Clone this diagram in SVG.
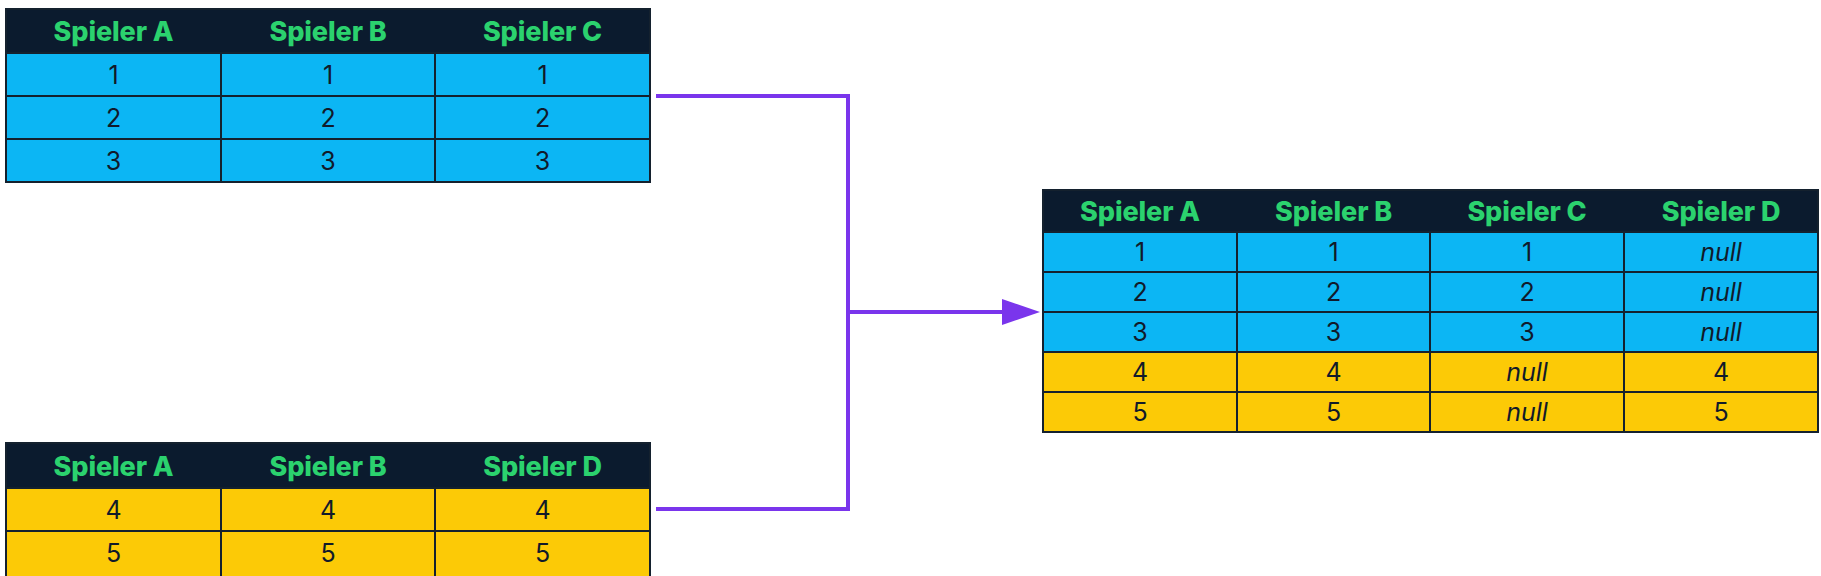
<svg xmlns="http://www.w3.org/2000/svg" width="1821" height="576" viewBox="0 0 1821 576">
<defs>
<style>
.hd{fill:#0b1b2e}
.bl{fill:#0cb6f4}
.ye{fill:#fcca06}
.grid{stroke:#14212e;stroke-width:2;fill:none}
.ht{font-family:Inter,"Noto Sans","DejaVu Sans",sans-serif;font-weight:800;font-size:27px;fill:#2bd26e;text-anchor:middle;letter-spacing:-0.1px}
.nt{font-family:Inter,"Noto Sans","DejaVu Sans",sans-serif;font-weight:400;font-size:25px;fill:#111a2a;text-anchor:middle}
.nl{font-style:italic}
.con{stroke:#7a35ec;stroke-width:4;fill:none;stroke-linejoin:miter}
</style>
<marker id="arr" viewBox="0 0 38 26" refX="0" refY="13" markerWidth="38" markerHeight="26" markerUnits="userSpaceOnUse" orient="auto">
<polygon points="0,0 38,13 0,26" fill="#7a35ec"/>
</marker>
</defs>
<rect width="1821" height="576" fill="#ffffff"/>

<g id="table-top">
<rect class="hd" x="6" y="9" width="644" height="44"/>
<rect class="bl" x="6" y="53" width="644" height="129"/>
<path class="grid" d="M6 53H650M6 96H650M6 139H650M221 53V182M435 53V182"/>
<rect class="grid" x="6" y="9" width="644" height="173"/>
<text class="ht" x="113.5" y="41">Spieler A</text>
<text class="ht" x="328" y="41">Spieler B</text>
<text class="ht" x="542.5" y="41">Spieler C</text>
<text class="nt" x="113.5" y="84">1</text><text class="nt" x="328" y="84">1</text><text class="nt" x="542.5" y="84">1</text>
<text class="nt" x="113.5" y="127">2</text><text class="nt" x="328" y="127">2</text><text class="nt" x="542.5" y="127">2</text>
<text class="nt" x="113.5" y="170">3</text><text class="nt" x="328" y="170">3</text><text class="nt" x="542.5" y="170">3</text>
</g>

<g id="table-bottom">
<rect class="hd" x="6" y="443" width="644" height="45"/>
<rect class="ye" x="6" y="488" width="644" height="88"/>
<path class="grid" d="M6 488H650M6 531H650M221 488V576M435 488V576"/>
<path class="grid" d="M6 576V443H650V576"/>
<text class="ht" x="113.5" y="475.5">Spieler A</text>
<text class="ht" x="328" y="475.5">Spieler B</text>
<text class="ht" x="542.5" y="475.5">Spieler D</text>
<text class="nt" x="113.5" y="519">4</text><text class="nt" x="328" y="519">4</text><text class="nt" x="542.5" y="519">4</text>
<text class="nt" x="113.5" y="562">5</text><text class="nt" x="328" y="562">5</text><text class="nt" x="542.5" y="562">5</text>
</g>

<g id="table-result">
<rect class="hd" x="1043" y="190" width="775" height="42"/>
<rect class="bl" x="1043" y="232" width="775" height="120"/>
<rect class="ye" x="1043" y="352" width="775" height="80"/>
<path class="grid" d="M1043 232H1818M1043 272H1818M1043 312H1818M1043 352H1818M1043 392H1818M1237 232V432M1430 232V432M1624 232V432"/>
<rect class="grid" x="1043" y="190" width="775" height="242"/>
<text class="ht" x="1140" y="220.5">Spieler A</text>
<text class="ht" x="1333.5" y="220.5">Spieler B</text>
<text class="ht" x="1527" y="220.5">Spieler C</text>
<text class="ht" x="1721" y="220.5">Spieler D</text>
<text class="nt" x="1140" y="261">1</text><text class="nt" x="1333.5" y="261">1</text><text class="nt" x="1527" y="261">1</text><text class="nt nl" x="1721" y="261">null</text>
<text class="nt" x="1140" y="301">2</text><text class="nt" x="1333.5" y="301">2</text><text class="nt" x="1527" y="301">2</text><text class="nt nl" x="1721" y="301">null</text>
<text class="nt" x="1140" y="341">3</text><text class="nt" x="1333.5" y="341">3</text><text class="nt" x="1527" y="341">3</text><text class="nt nl" x="1721" y="341">null</text>
<text class="nt" x="1140" y="381">4</text><text class="nt" x="1333.5" y="381">4</text><text class="nt nl" x="1527" y="381">null</text><text class="nt" x="1721" y="381">4</text>
<text class="nt" x="1140" y="421">5</text><text class="nt" x="1333.5" y="421">5</text><text class="nt nl" x="1527" y="421">null</text><text class="nt" x="1721" y="421">5</text>
</g>

<g id="connectors">
<path class="con" d="M656 96H848V509H656"/>
<path class="con" d="M848 312H1002" marker-end="url(#arr)"/>
</g>
</svg>
